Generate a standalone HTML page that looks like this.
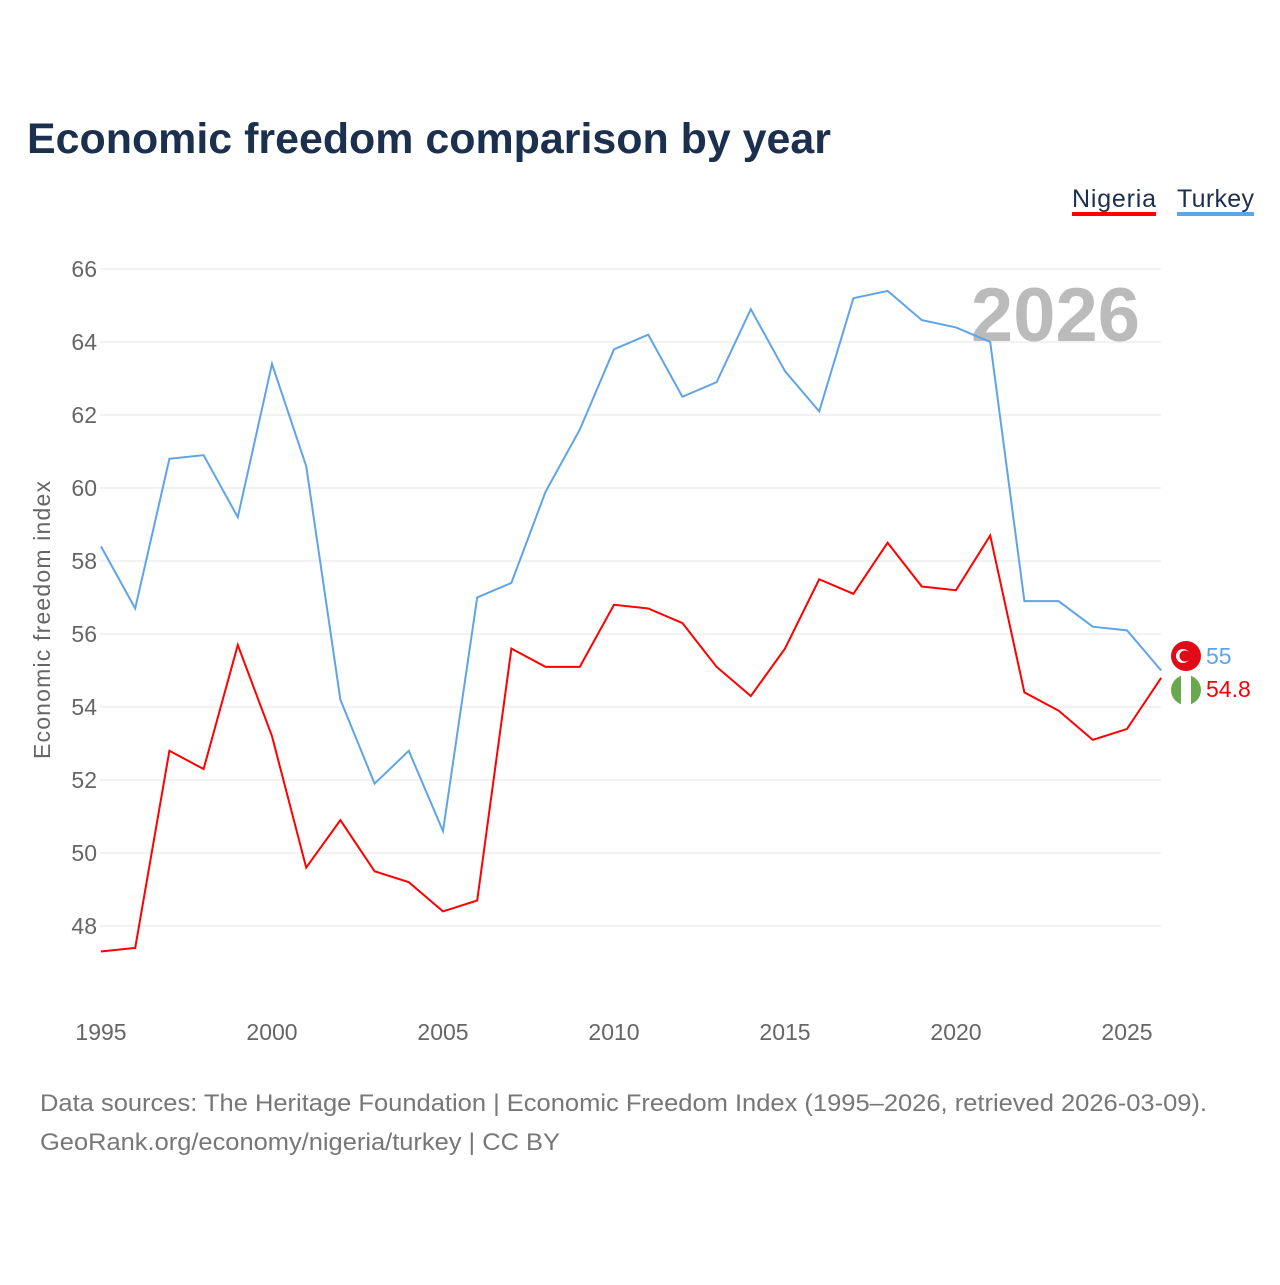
<!DOCTYPE html>
<html><head><meta charset="utf-8"><style>
body{margin:0;background:#fff;font-family:"Liberation Sans",sans-serif;}
</style></head><body>
<svg width="1280" height="1280" xmlns="http://www.w3.org/2000/svg" id="chart">
<rect width="1280" height="1280" fill="#fff"/>
<text x="27" y="153" font-size="43" font-weight="bold" fill="#1b2f4e" textLength="804" lengthAdjust="spacingAndGlyphs">Economic freedom comparison by year</text>
<g><text x="1072" y="207" font-size="25" fill="#1b2f4e" textLength="84">Nigeria</text><rect x="1072" y="212" width="84" height="4" fill="#f00"/></g>
<g><text x="1177" y="207" font-size="25" fill="#1b2f4e" textLength="77">Turkey</text><rect x="1177" y="212" width="77" height="4" fill="#5fa4e8"/></g>
<text x="1140" y="341" font-size="76" font-weight="bold" fill="#bbb" text-anchor="end">2026</text>
<text transform="translate(50,620) rotate(-90)" font-size="23" fill="#666" text-anchor="middle" textLength="278">Economic freedom index</text>
<g id="grid"></g><g id="xt"></g><g id="lines"></g>
<text x="40" y="1111" font-size="24" fill="#777" textLength="1167" lengthAdjust="spacingAndGlyphs">Data sources: The Heritage Foundation | Economic Freedom Index (1995–2026, retrieved 2026-03-09).</text>
<text x="40" y="1150" font-size="24" fill="#777" textLength="520" lengthAdjust="spacingAndGlyphs">GeoRank.org/economy/nigeria/turkey | CC BY</text>
</svg>
<script>
const years=[];for(let y=1995;y<=2026;y++)years.push(y);
const turkey=[58.4,56.7,60.8,60.9,59.2,63.4,60.6,54.2,51.9,52.8,50.6,57.0,57.4,59.9,61.6,63.8,64.2,62.5,62.9,64.9,63.2,62.1,65.2,65.4,64.6,64.4,64.0,56.9,56.9,56.2,56.1,55.0];
const nigeria=[47.3,47.4,52.8,52.3,55.7,53.2,49.6,50.9,49.5,49.2,48.4,48.7,55.6,55.1,55.1,56.8,56.7,56.3,55.1,54.3,55.6,57.5,57.1,58.5,57.3,57.2,58.7,54.4,53.9,53.1,53.4,54.8];
const yTicks=[48,50,52,54,56,58,60,62,64,66];
const xTicks=[1995,2000,2005,2010,2015,2020,2025];
const NS="http://www.w3.org/2000/svg";
const X=y=>101+(y-1995)*34.2, Y=v=>926-(v-48)*36.5;
function mk(t,a,p){const e=document.createElementNS(NS,t);for(const k in a)e.setAttribute(k,a[k]);p.appendChild(e);return e;}
const g=document.getElementById('grid');
yTicks.forEach(v=>{const l=mk('line',{x1:100,x2:1161,y1:Y(v),y2:Y(v),stroke:'#e6e6e6'},g);


const t=mk('text',{x:97,y:Y(v)+8,'font-size':23,fill:'#666','text-anchor':'end'},g);t.textContent=v;

});
const xt=document.getElementById('xt');
xTicks.forEach(v=>{const t=mk('text',{x:X(v),y:1040,'font-size':23,fill:'#666','text-anchor':'middle'},xt);t.textContent=v;

});
const L=document.getElementById('lines');
[[turkey,'#5fa4e8','turkey'],[nigeria,'#f00','nigeria']].forEach(([d,c,n])=>{
const p=mk('polyline',{points:d.map((v,i)=>X(years[i])+','+Y(v)).join(' '),fill:'none',stroke:c,'stroke-width':2},L);

});
const lt=turkey[turkey.length-1], ln=nigeria[nigeria.length-1];
const tf=mk('circle',{cx:1186,cy:656,r:15,fill:'#e30a17'},L);


mk('circle',{cx:1183,cy:656,r:7,fill:'#fff'},L);mk('circle',{cx:1185,cy:656,r:5.5,fill:'#e30a17'},L);
const nf=mk('circle',{cx:1186,cy:690,r:15,fill:'#6aa84f'},L);


mk('rect',{x:1181,y:675,width:10,height:30,fill:'#fff'},L);
const tl=mk('text',{x:1206,y:664,'font-size':23,fill:'#5fa4e8'},L);tl.textContent=lt;


const nl=mk('text',{x:1206,y:697,'font-size':23,fill:'#f00'},L);nl.textContent=ln;


</script>
</body></html>
